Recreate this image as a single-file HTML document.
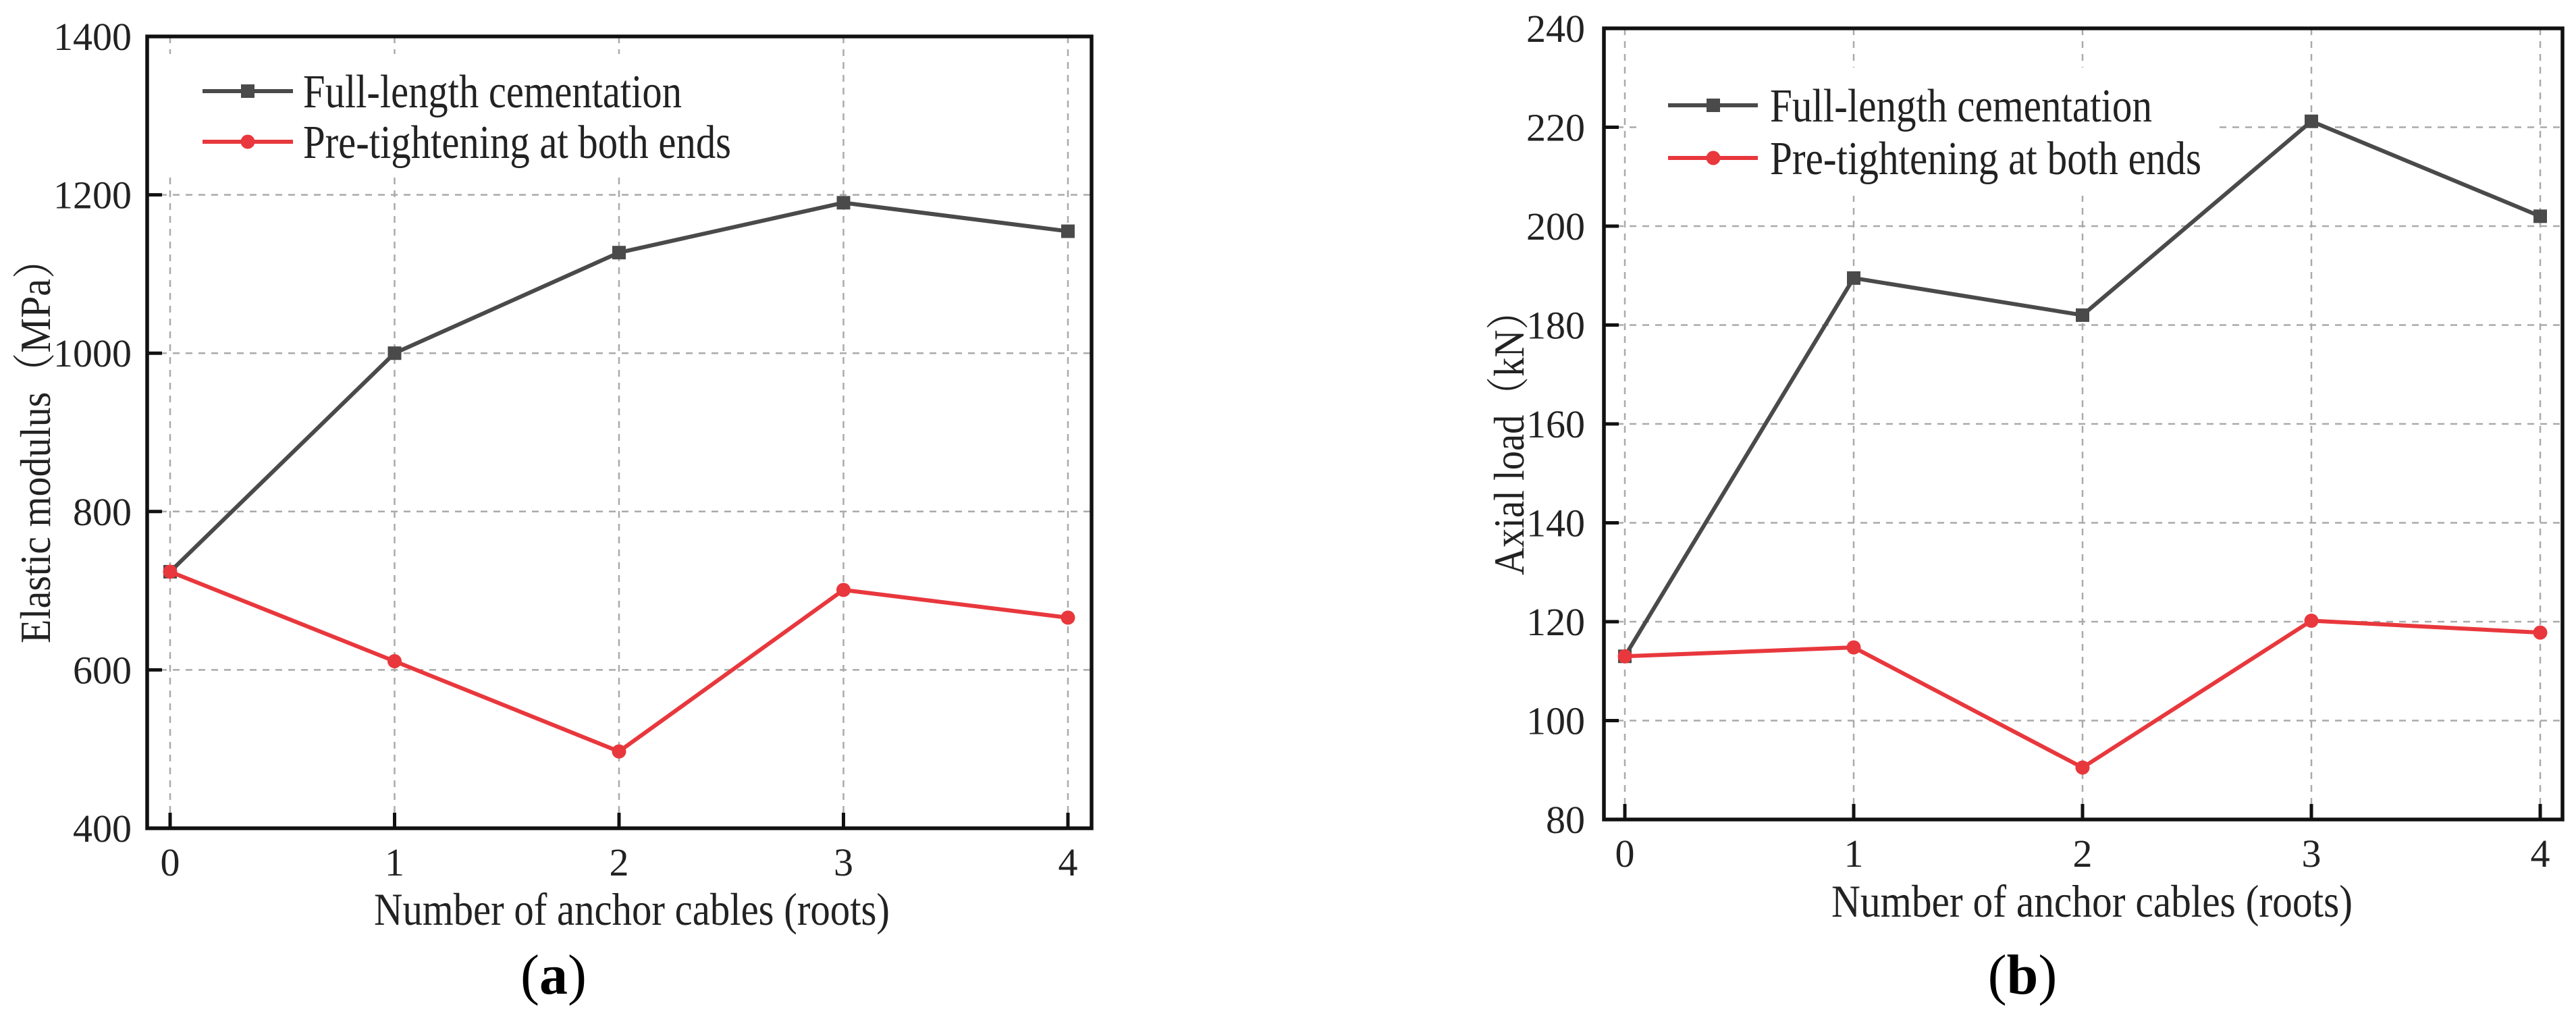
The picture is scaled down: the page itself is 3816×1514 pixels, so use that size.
<!DOCTYPE html>
<html><head><meta charset="utf-8"><style>
html,body{margin:0;padding:0;background:#fff;}
svg{display:block;font-family:"Liberation Serif","Noto Serif CJK SC",serif;}
</style></head><body>
<svg id="fig" width="3816" height="1514" viewBox="0 0 3816 1514" xmlns="http://www.w3.org/2000/svg"></svg>
<script>
const categories = [0, 1, 2, 3, 4];
const seriesNames = ["Full-length cementation", "Pre-tightening at both ends"];
const aFull = [724, 1000, 1127, 1190, 1154];
const aPre = [724, 611, 497, 701, 666];
const aTicks = [400, 600, 800, 1000, 1200, 1400];
const bFull = [113, 189.5, 182, 221.2, 202];
const bPre = [113, 114.8, 90.5, 120.2, 117.8];
const bTicks = [80, 100, 120, 140, 160, 180, 200, 220, 240];

const NS = "http://www.w3.org/2000/svg";
const svg = document.getElementById('fig');
function mk(tag, attrs, parent, name) {
  const e = document.createElementNS(NS, tag);
  for (const k in attrs) e.setAttribute(k, attrs[k]);
  
  
  (parent || svg).appendChild(e);
  return e;
}
function panel(p) {
  const g = mk('g', {}, svg, p.id);
  const xs = v => p.x0 + (v - categories[0]) / (categories[4] - categories[0]) * (p.x4 - p.x0);
  const ys = v => p.bottom - (v - p.ymin) / (p.ymax - p.ymin) * (p.bottom - p.top);
  categories.forEach(c => {
    mk('line', {x1: xs(c), x2: xs(c), y1: p.top, y2: p.bottom, stroke: '#aaa', 'stroke-width': 2.5, 'stroke-dasharray': '10 9'}, g, 'x-grid-line');
  });
  p.ticks.forEach(t => {
    mk('line', {x1: p.left, x2: p.right, y1: ys(t), y2: ys(t), stroke: '#aaa', 'stroke-width': 2.5, 'stroke-dasharray': '10 9'}, g, 'y-grid-line');
  });
  mk('rect', {x: p.lg.bx, y: p.lg.by, width: p.lg.bw, height: p.lg.bh, fill: '#fff'}, g, 'legend-background');
  const cols = ['#4a4a4a', '#e8383d'];
  [p.full, p.pre].forEach((arr, si) => {
    const pts = arr.map((v, i) => xs(categories[i]) + ',' + ys(v)).join(' ');
    mk('polyline', {points: pts, fill: 'none', stroke: cols[si], 'stroke-width': 6}, g, si ? 'pre-tightening-line' : 'full-length-line');
    arr.forEach((v, i) => {
      if (si === 0) mk('rect', {x: xs(categories[i]) - 10, y: ys(v) - 10, width: 20, height: 20, fill: cols[0]}, g, 'full-length-point');
      else mk('circle', {cx: xs(categories[i]), cy: ys(v), r: 10.5, fill: cols[1]}, g, 'pre-tightening-point');
    });
  });
  mk('rect', {x: p.left, y: p.top, width: p.right - p.left, height: p.bottom - p.top, fill: 'none', stroke: '#111', 'stroke-width': 5.5}, g, 'plot-frame');
  categories.forEach(c => {
    mk('line', {x1: xs(c), x2: xs(c), y1: p.bottom, y2: p.bottom - 23, stroke: '#111', 'stroke-width': 5}, g, 'x-tick');
    const t = mk('text', {x: xs(c), y: p.bottom + 70, 'font-size': 58, 'text-anchor': 'middle', fill: '#222'}, g, 'x-tick-label');
    t.textContent = c;
  });
  p.ticks.forEach(tv => {
    mk('line', {x1: p.left, x2: p.left + 22, y1: ys(tv), y2: ys(tv), stroke: '#111', 'stroke-width': 5}, g, 'y-tick');
    const t = mk('text', {x: p.labR, y: ys(tv) + 20, 'font-size': 58, 'text-anchor': 'end', fill: '#222'}, g, 'y-tick-label');
    t.textContent = tv;
  });
  const xt = mk('text', {x: p.xt.x, y: p.xt.y, 'font-size': 68, textLength: p.xt.w, lengthAdjust: 'spacingAndGlyphs', fill: '#222'}, g, 'x-axis-title');
  xt.textContent = 'Number of anchor cables (roots)';
  const yt = mk('text', {x: 0, y: 0, 'font-size': 64, textLength: p.yt.len, lengthAdjust: 'spacingAndGlyphs', fill: '#222', transform: `translate(${p.yt.x},${p.yt.yb}) rotate(-90)`}, g, 'y-axis-title');
  yt.textContent = p.yt.text;
  p.lg.rows.forEach((r, i) => {
    mk('line', {x1: p.lg.x1, x2: p.lg.x2, y1: r.y, y2: r.y, stroke: cols[i], 'stroke-width': 6}, g, 'legend-line');
    if (i === 0) mk('rect', {x: p.lg.mx - 10, y: r.y - 10, width: 20, height: 20, fill: cols[0]}, g, 'legend-marker');
    else mk('circle', {cx: p.lg.mx, cy: r.y, r: 10.5, fill: cols[1]}, g, 'legend-marker');
    const t = mk('text', {x: p.lg.tx, y: r.y + 24, 'font-size': 70, textLength: r.w, lengthAdjust: 'spacingAndGlyphs', fill: '#222'}, g, 'legend-entry');
    t.textContent = seriesNames[i];
  });
  const pl = mk('text', {x: p.pl.x, y: p.pl.y, 'font-size': 84, 'text-anchor': 'middle', fill: '#000'}, g, 'panel-label');
  pl.innerHTML = '(<tspan font-weight="bold">' + p.pl.t + '</tspan>)';
}
panel({id: 'panel-a', left: 218, right: 1617, top: 54, bottom: 1227, x0: 252, x4: 1582, ymin: 400, ymax: 1400,
  ticks: aTicks, full: aFull, pre: aPre, labR: 195,
  xt: {x: 554, y: 1370, w: 764}, yt: {x: 74, yb: 953, len: 598, text: 'Elastic modulus（MPa）'},
  lg: {bx: 240, by: 80, bw: 880, bh: 180, x1: 300, x2: 434, mx: 367, tx: 449, rows: [{y: 135, w: 561}, {y: 210, w: 634}]},
  pl: {x: 820, y: 1472, t: 'a'}});
panel({id: 'panel-b', left: 2376, right: 3796, top: 42, bottom: 1214, x0: 2407, x4: 3763, ymin: 80, ymax: 240,
  ticks: bTicks, full: bFull, pre: bPre, labR: 2348,
  xt: {x: 2713, y: 1358, w: 772}, yt: {x: 2257, yb: 852, len: 420, text: 'Axial load（kN）'},
  lg: {bx: 2430, by: 100, bw: 850, bh: 190, x1: 2471, x2: 2604, mx: 2538, tx: 2622, rows: [{y: 156, w: 566}, {y: 234, w: 639}]},
  pl: {x: 2996, y: 1472, t: 'b'}});
</script>
</body></html>
